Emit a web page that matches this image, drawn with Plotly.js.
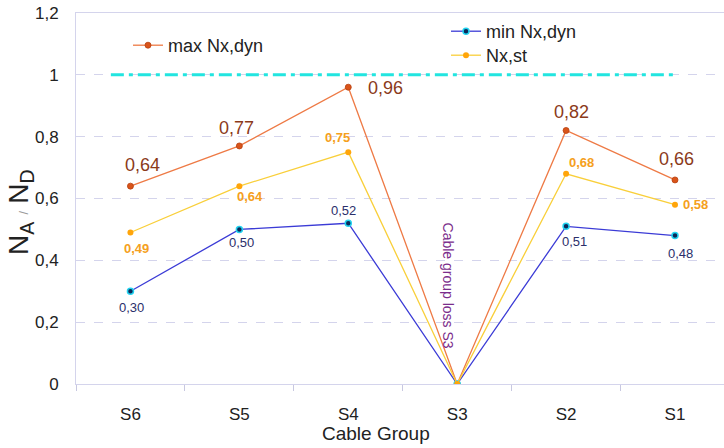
<!DOCTYPE html>
<html><head><meta charset="utf-8">
<script src="https://cdn.plot.ly/plotly-3.0.1.min.js"></script>
<style>body{margin:0;background:#fff}#c{width:724px;height:448px}</style>
</head><body><div id="c"></div>
<script>
var groups = ["S6","S5","S4","S3","S2","S1"];
var maxDyn = [0.64, 0.77, 0.96, 0, 0.82, 0.66];
var minDyn = [0.30, 0.50, 0.52, 0, 0.51, 0.48];
var nxSt   = [0.49, 0.64, 0.75, 0, 0.68, 0.58];
var maxLabels = ["0,64","0,77","0,96","","0,82","0,66"];
var minLabels = ["0,30","0,50","0,52","","0,51","0,48"];
var stLabels  = ["0,49","0,64","0,75","","0,68","0,58"];
var limitValue = 1;
var lossNote = "Cable group loss S3";
var xTitle = "Cable Group";
var yTitle = "N<sub>A</sub><span style='font-size:13px;color:#999'>  /  </span>N<sub>D</sub>";

// label offsets in pixels (style, not data)
var maxOff = [[12,-21],[-3,-18],[37,1],[0,0],[5,-18],[2,-21]];
var stOff  = [[6,16],[11,10],[-11,-15],[0,0],[15,-11],[21,0]];
var minOff = [[1,16],[2,13],[-5,-13],[0,0],[8,15],[6,18]];

var F = "Liberation Sans, Arial, sans-serif";
var traces = [
  {x: groups, y: maxDyn, name: "max Nx,dyn", mode: "lines+markers", legend: "legend",
   line: {color: "#ee7a45", width: 1.3},
   marker: {size: 6, color: "#d9541a", line: {color: "#b8400f", width: 0.8}}},
  {x: groups, y: minDyn, name: "min Nx,dyn", mode: "lines+markers", legend: "legend2",
   line: {color: "#3b3bd6", width: 1.3},
   marker: {size: 6, color: "#0a2a5a", line: {color: "#22d3f0", width: 1.5}}},
  {x: groups, y: nxSt, name: "Nx,st", mode: "lines+markers", legend: "legend3",
   line: {color: "#f9cf3a", width: 1.3},
   marker: {size: 6, color: "#ffa50a"}}
];

var ann = [];
function addLabels(vals, labels, off, font) {
  for (var i = 0; i < groups.length; i++) {
    if (!labels[i]) continue;
    ann.push({x: groups[i], y: vals[i], xref: "x", yref: "y", text: labels[i], showarrow: false,
      xanchor: "center", yanchor: "middle",
      xshift: off[i][0], yshift: -off[i][1], font: font});
  }
}
addLabels(maxDyn, maxLabels, maxOff, {family: F, size: 18, color: "#8b3a1a"});
addLabels(nxSt, stLabels, stOff, {family: F, size: 13, color: "#f5a020", weight: "bold"});
addLabels(minDyn, minLabels, minOff, {family: F, size: 13, color: "#2b2f6b"});
ann.push({x: 2.92, y: 0.317, xref: "x", yref: "y", text: lossNote, showarrow: false, textangle: 90,
  xanchor: "center", yanchor: "middle", font: {family: F, size: 14, color: "#7b2d8b"}});
ann.push({x: -56/648, y: 172/371, xref: "paper", yref: "paper", xanchor: "center", yanchor: "middle",
  text: yTitle, showarrow: false, textangle: -90, font: {family: F, size: 28, color: "#222"}});
ann.push({x: 300/648, y: -49/371, xref: "paper", yref: "paper", xanchor: "center", yanchor: "middle",
  text: xTitle, showarrow: false, font: {family: F, size: 19, color: "#222"}});

function leg(px, py) {
  return {x: px/724, y: 1-py/448, xref: "container", yref: "container", xanchor: "left", yanchor: "top",
    bgcolor: "rgba(0,0,0,0)", font: {family: F, size: 18, color: "#222"}, itemwidth: 30, tracegroupgap: 0};
}

var layout = {
  width: 724, height: 448,
  margin: {l: 76, r: 0, t: 13, b: 64, autoexpand: false},
  paper_bgcolor: "#fff", plot_bgcolor: "#fff",
  separators: ",.",
  font: {family: F, color: "#333"},
  xaxis: {type: "category", range: [-0.5, 5.45], tickson: "boundaries",
    ticks: "outside", ticklen: 6, tickcolor: "#c8c8e0",
    showgrid: false, showline: true, linecolor: "#d4d4ec", linewidth: 1, mirror: true,
    zeroline: false, tickfont: {family: F, size: 17, color: "#222"}, ticklabelstandoff: 15,
    automargin: false},
  yaxis: {range: [0, 1.2], dtick: 0.2, tick0: 0, automargin: false,
    gridcolor: "#d4d4ec", griddash: "dash", gridwidth: 1,
    showline: true, linecolor: "#d4d4ec", zeroline: true, zerolinecolor: "#d4d4ec",
    ticks: "", ticklabelstandoff: 13,
    tickfont: {family: F, size: 17, color: "#222"}},
  showlegend: true,
  legend: leg(128, 27),
  legend2: leg(446, 13),
  legend3: leg(446, 37),
  shapes: [{type: "line", xref: "x", yref: "y", x0: -0.18, x1: 5.02, y0: limitValue, y1: limitValue,
    line: {color: "#22e5e0", width: 3, dash: "13px,5px,4px,5px"}}],
  annotations: ann
};
Plotly.newPlot("c", traces, layout, {displayModeBar: false, staticPlot: true});
</script></body></html>
